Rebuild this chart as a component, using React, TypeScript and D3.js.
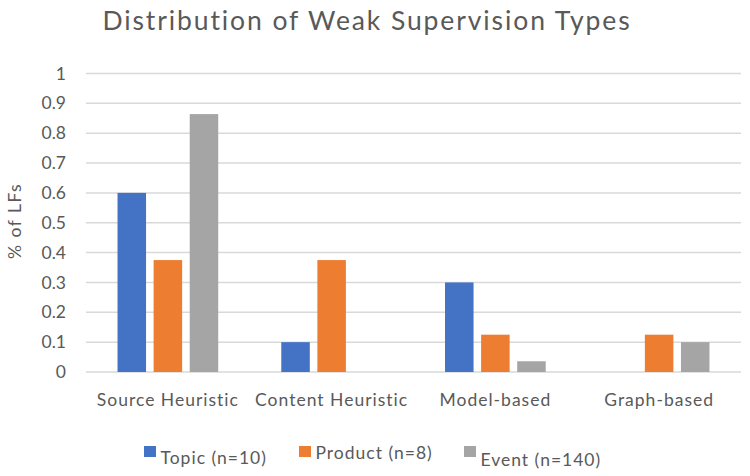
import React from "react";
import * as d3 from "d3";

const categories = ["Source Heuristic", "Content Heuristic", "Model-based", "Graph-based"];
const seriesNames = ["Topic (n=10)", "Product (n=8)", "Event (n=140)"];
const topicValues = [0.6, 0.1, 0.3, 0];
const productValues = [0.375, 0.375, 0.125, 0.125];
const eventValues = [0.864, 0, 0.036, 0.1];
const yTicks = [0, 0.1, 0.2, 0.3, 0.4, 0.5, 0.6, 0.7, 0.8, 0.9, 1];
const title = "Distribution of Weak Supervision Types";
const yTitle = "% of LFs";

const colors = ["#4472C4", "#ED7D31", "#A5A5A5"];
const W = 750;
const H = 476;
const FONT = "Lato, 'Open Sans', sans-serif";
const TEXT = "#595959";

export default function App() {
  const seriesValues = [topicValues, productValues, eventValues];
  const x0 = d3.scaleBand<string>().domain(categories).range([86, 741]).paddingInner(0.385).paddingOuter(0.1925);
  const x1 = d3.scaleBand<string>().domain(seriesNames).range([0, x0.bandwidth()]).paddingInner(0.21).paddingOuter(0);
  const y = d3.scaleLinear().domain([0, 1]).range([372, 73.5]);

  const legendX = [144, 299, 464];
  const legendTextDy = [18, 13, 20];

  return (
    <svg width={W} height={H} style={{ position: "absolute", left: 0, top: 0, background: "#fff" }} fontFamily={FONT}>
      <rect width={W} height={H} fill="#fff" />
      <text x={367} y={29.5} textAnchor="middle" fontSize={26.5} letterSpacing={1.9} fill={TEXT}>{title}</text>
      {yTicks.map((t) => (
        <g key={t}>
          <line x1={86} x2={741} y1={y(t)} y2={y(t)} stroke="#D9D9D9" strokeWidth={1.5} />
          <text x={66} y={y(t)} dy="0.35em" textAnchor="end" fontSize={17.5} fill={TEXT}>{d3.format("~g")(t)}</text>
        </g>
      ))}
      <text transform={`translate(21,221) rotate(-90)`} textAnchor="middle" fontSize={17.5} letterSpacing={1.5} fill={TEXT}>{yTitle}</text>
      {categories.map((c, ci) => (
        <g key={c}>
          {seriesNames.map((s, si) => {
            const v = seriesValues[si][ci];
            if (!v) return null;
            return (
              <rect key={s} x={(x0(c) as number) + (x1(s) as number)} y={y(v)} width={x1.bandwidth()} height={y(0) - y(v)} fill={colors[si]} />
            );
          })}
          <text x={(x0(c) as number) + x0.bandwidth() / 2} y={406} textAnchor="middle" fontSize={17.5} letterSpacing={1} fill={TEXT}>{c}</text>
        </g>
      ))}
      {seriesNames.map((s, si) => (
        <g key={s}>
          <rect x={legendX[si]} y={446} width={12} height={11} fill={colors[si]} />
          <text x={legendX[si] + 16.5} y={446 + legendTextDy[si]} fontSize={17.5} letterSpacing={1} fill={TEXT}>{s}</text>
        </g>
      ))}
    </svg>
  );
}
